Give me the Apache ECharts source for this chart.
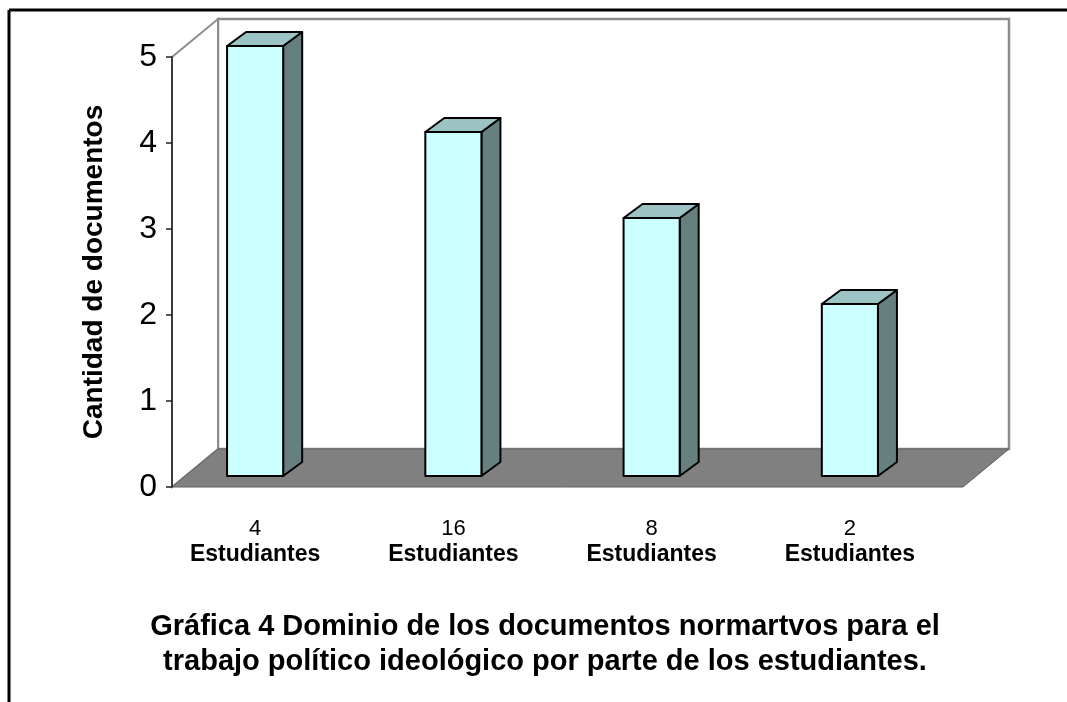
<!DOCTYPE html>
<html>
<head>
<meta charset="utf-8">
<script src="https://cdn.jsdelivr.net/npm/echarts@6/dist/echarts.min.js"></script>
<style>
html,body{margin:0;padding:0;background:#fff;}
#chart{width:1067px;height:702px;}
</style>
</head>
<body>
<div id="chart"></div>
<script>
const categories = ['4 Estudiantes', '16 Estudiantes', '8 Estudiantes', '2 Estudiantes'];
const docCounts = [5, 4, 3, 2];
const yMin = 0, yMax = 5, yStep = 1;
const yTitle = 'Cantidad de documentos';
const chartTitle = 'Gráfica 4 Dominio de los documentos normartvos para el\ntrabajo político ideológico por parte de los estudiantes.';

const FONT = '"Liberation Sans", Arial, sans-serif';
const DEPTH = [46, -38];      // wall/floor perspective offset (px)
const BAR_DEPTH = [19, -14];  // bar perspective offset (px)
const BAR_LIFT = 11;          // bar front plane offset (px)

const chart = echarts.init(document.getElementById('chart'), null, {renderer: 'canvas'});

const option = {
  backgroundColor: '#ffffff',
  animation: false,
  title: {
    text: chartTitle,
    left: 540,
    top: 604,
    textAlign: 'center',
    textStyle: {fontFamily: FONT, fontSize: 29, fontWeight: 'bold', color: '#000', lineHeight: 35}
  },
  graphic: [
    {type: 'line', shape: {x1: 9, y1: 10, x2: 1067, y2: 10}, style: {stroke: '#000', lineWidth: 3}, z: 10},
    {type: 'line', shape: {x1: 9, y1: 10, x2: 9, y2: 702}, style: {stroke: '#000', lineWidth: 3}, z: 10}
  ],
  grid: [
    {left: 172, right: 104, top: 57, bottom: 215},
    {left: 156, right: 118, top: 57, bottom: 215}
  ],
  xAxis: [
    {gridIndex: 0, type: 'value', min: 0, max: 1, show: false},
    {
      gridIndex: 1, type: 'category', data: categories,
      axisLine: {show: false}, axisTick: {show: false},
      axisLabel: {
        margin: 28,
        formatter: function (v) {
          const parts = v.split(' ');
          return '{n|' + parts[0] + '}\n{b|' + parts.slice(1).join(' ') + '}';
        },
        rich: {
          n: {fontFamily: FONT, fontSize: 22, lineHeight: 27, color: '#000'},
          b: {fontFamily: FONT, fontSize: 23, fontWeight: 'bold', lineHeight: 26, color: '#000'}
        }
      }
    }
  ],
  yAxis: [
    {
      gridIndex: 0, type: 'value', min: yMin, max: yMax, interval: yStep, z: 5,
      name: yTitle, nameLocation: 'middle', nameGap: 64,
      nameTextStyle: {fontFamily: FONT, fontSize: 28, fontWeight: 'bold', color: '#000'},
      axisLine: {show: true, lineStyle: {color: '#222', width: 1.5}},
      axisTick: {show: true, length: 6, lineStyle: {color: '#222', width: 1.5}},
      axisLabel: {fontFamily: FONT, fontSize: 32, color: '#000', margin: 15},
      splitLine: {show: false}
    },
    {gridIndex: 1, type: 'value', min: yMin, max: yMax, interval: yStep, show: false}
  ],
  series: [
    {
      type: 'custom',
      xAxisIndex: 0, yAxisIndex: 0, z: 1,
      silent: true,
      data: [[0, yMin]],
      renderItem: function (params, api) {
        const fl = api.coord([0, yMin]);
        const fr = api.coord([1, yMin]);
        const tl = api.coord([0, yMax]);
        const tr = api.coord([1, yMax]);
        const dx = DEPTH[0], dy = DEPTH[1];
        const gray = '#8c8c8c';
        return {
          type: 'group',
          children: [
            {type: 'rect', shape: {x: tl[0] + dx, y: tl[1] + dy, width: tr[0] - tl[0], height: fl[1] - tl[1]},
             style: {fill: '#fff', stroke: gray, lineWidth: 2.5}},
            {type: 'polygon', shape: {points: [[tl[0], tl[1]], [tl[0] + dx, tl[1] + dy], [fl[0] + dx, fl[1] + dy], [fl[0], fl[1]]]},
             style: {fill: '#fff', stroke: gray, lineWidth: 2}},
            {type: 'polygon', shape: {points: [[fl[0], fl[1]], [fl[0] + dx, fl[1] + dy], [fr[0] + dx, fr[1] + dy], [fr[0], fr[1]]]},
             style: {fill: '#808080', stroke: '#606060', lineWidth: 1}}
          ]
        };
      }
    },
    {
      type: 'custom',
      xAxisIndex: 1, yAxisIndex: 1, z: 3,
      data: docCounts.map(function (v, i) { return [i, v]; }),
      renderItem: function (params, api) {
        const i = api.value(0), v = api.value(1);
        const top = api.coord([i, v]);
        const base = api.coord([i, 0]);
        const band = api.size([1, 0])[0];
        const w = band * 0.283;
        const dx = BAR_DEPTH[0], dy = BAR_DEPTH[1];
        const x0 = top[0] - w / 2, x1 = top[0] + w / 2;
        const yt = top[1] - BAR_LIFT, yb = base[1] - BAR_LIFT;
        const ln = {stroke: '#000', lineWidth: 2, lineJoin: 'round'};
        return {
          type: 'group',
          children: [
            {type: 'polygon', shape: {points: [[x1, yt], [x1 + dx, yt + dy], [x1 + dx, yb + dy], [x1, yb]]},
             style: Object.assign({fill: '#668080'}, ln)},
            {type: 'polygon', shape: {points: [[x0, yt], [x0 + dx, yt + dy], [x1 + dx, yt + dy], [x1, yt]]},
             style: Object.assign({fill: '#9CC4C4'}, ln)},
            {type: 'rect', shape: {x: x0, y: yt, width: w, height: yb - yt},
             style: Object.assign({fill: '#CCFFFF'}, ln)}
          ]
        };
      }
    }
  ]
};
chart.setOption(option);
</script>
</body>
</html>
